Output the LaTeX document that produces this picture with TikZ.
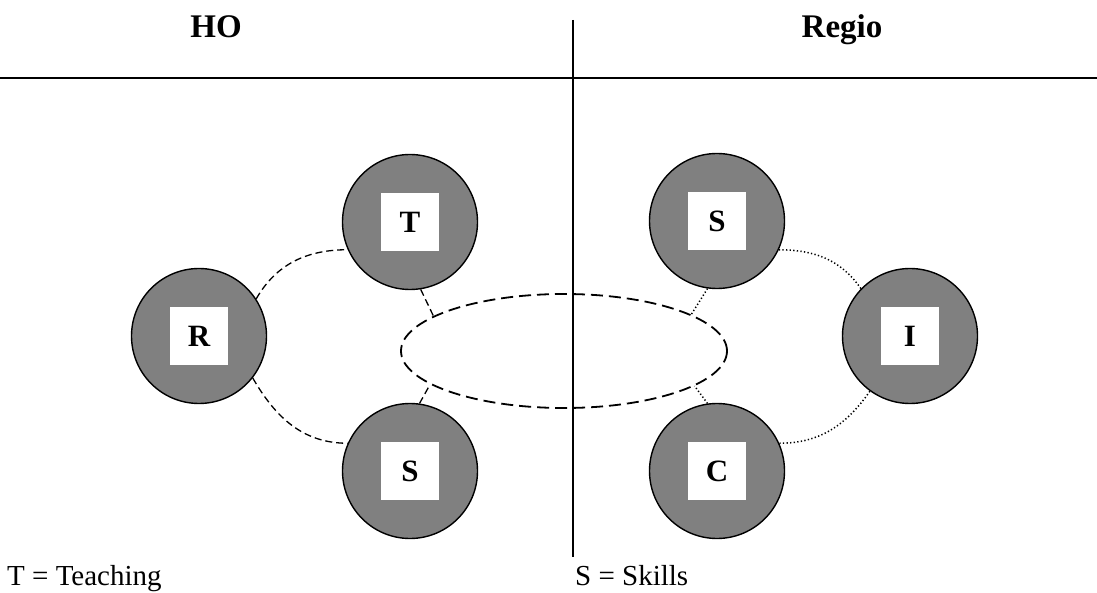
\documentclass[tikz,border=0pt]{standalone}
\usepackage{fontspec}
\setmainfont{Liberation Serif}
\usetikzlibrary{shapes.geometric}
\begin{document}
\begin{tikzpicture}[x=1pt,y=1pt,
  ball/.style={circle,draw=black,line width=1.4pt,fill=black!50,minimum size=135pt,inner sep=0pt},
  lbl/.style={fill=white,minimum size=58pt,inner sep=0pt,font=\fontsize{31}{33}\selectfont\bfseries},
  title/.style={anchor=base,font=\fontsize{33}{36}\selectfont\bfseries},
  legend/.style={anchor=base west,inner sep=0pt,font=\fontsize{29}{31}\selectfont},
  dsh/.style={line width=1.3pt,dash pattern=on 7pt off 4pt},
  dlong/.style={line width=1.8pt,dash pattern=on 12pt off 6pt},
  dot/.style={line width=1.5pt,dash pattern=on 1.3pt off 2.3pt}]
\useasboundingbox (0,0) rectangle (1097,592);
% axes
\coordinate (hl) at (0,514);
\coordinate (hr) at (1097,514);
\coordinate (vt) at (573,572);
\coordinate (vb) at (573,35);
\draw[line width=1.5pt] (hl) -- (hr);
% titles
\node[title] (ho) at (216,554) {HO};
\node[title] (regio) at (842,554) {Regio};
% centre ellipse
\node[ellipse,dlong,draw,minimum width=326pt,minimum height=114pt,inner sep=0pt] (E) at (564,241) {};
\draw[line width=1.4pt] (vt) -- (vb);
% circles
\node[ball] (T) at (410,370) {};
\node[ball] (R) at (199,256) {};
\node[ball] (S) at (410,121) {};
\node[ball] (S2) at (717,371) {};
\node[ball] (I) at (910,256) {};
\node[ball] (C) at (717,121) {};
\node[lbl] (Tl) at (T) {T};
\node[lbl] (Rl) at (R) {R};
\node[lbl] (Sl) at (S) {S};
\node[lbl] (S2l) at (S2) {S};
\node[lbl] (Il) at (I) {I};
\node[lbl] (Cl) at (C) {C};
% left connectors
\draw[dsh] (R.33) to[out=60,in=180] (T.204);
\draw[dsh] (R.-38) to[out=-60,in=180] (S.156);
\draw[dsh] (T.-81) -- (E.165);
\draw[dsh] (S.82) -- (E.194);
% right connectors
\draw[dot] (S2.-25) to[out=0,in=125] (I.136);
\draw[dot] (C.24) to[out=0,in=235] (I.234);
\draw[dot] (S2.262) -- (E.16);
\draw[dot] (C.98) -- (E.-15);
% legend
\node[legend] (lt) at (7,7) {T = Teaching};
\node[legend] (ls) at (575,7) {S = Skills};
\end{tikzpicture}
\end{document}
